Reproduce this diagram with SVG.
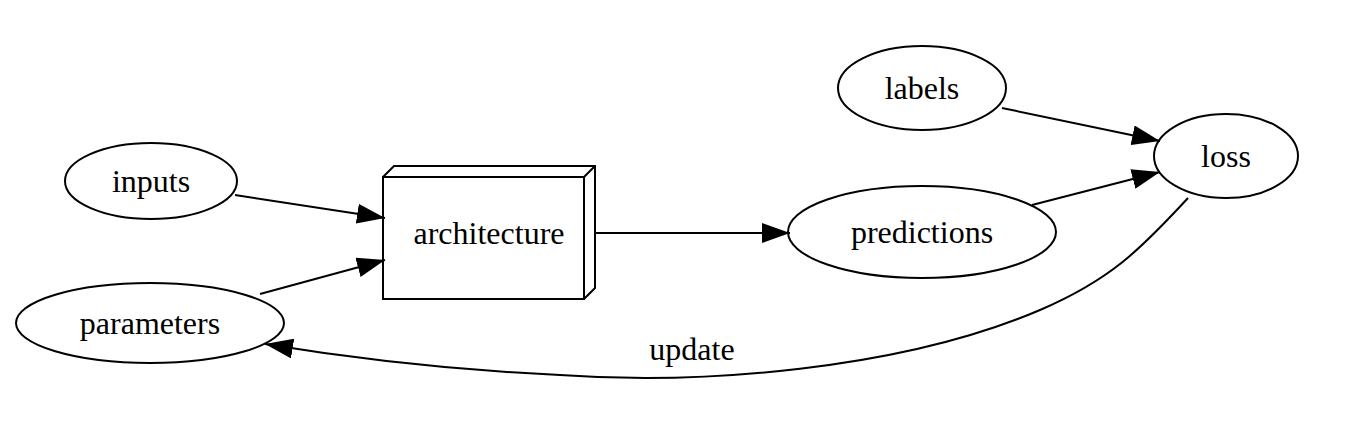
<svg xmlns="http://www.w3.org/2000/svg" width="1362" height="424" viewBox="0 0 1362 424">
<defs>
<style>
.n{fill:none;stroke:#000;stroke-width:2}
.e{fill:none;stroke:#000;stroke-width:2}
text{font-family:"Liberation Serif",serif;font-size:32px;text-anchor:middle;fill:#000}
</style>
<marker id="a" viewBox="0 0 28 20" refX="28" refY="10" markerWidth="28" markerHeight="20" markerUnits="userSpaceOnUse" orient="auto"><path d="M0,0L28,10L0,20z" fill="#000"/></marker>
</defs>
<rect width="1362" height="424" fill="#fff"/>
<g id="inputs"><ellipse class="n" cx="151" cy="181" rx="86" ry="38"/><text x="151" y="192">inputs</text></g>
<g id="parameters"><ellipse class="n" cx="150" cy="323" rx="134" ry="40"/><text x="150" y="334">parameters</text></g>
<g id="architecture"><path class="n" d="M383,177H584V299H383Z M383,177L394,166H595V288L584,299 M584,177L595,166"/><text x="489" y="244">architecture</text></g>
<g id="predictions"><ellipse class="n" cx="922" cy="232" rx="134" ry="46"/><text x="922" y="243">predictions</text></g>
<g id="labels"><ellipse class="n" cx="922" cy="88" rx="84" ry="42"/><text x="922" y="99">labels</text></g>
<g id="loss"><ellipse class="n" cx="1226" cy="156" rx="72" ry="42"/><text x="1226" y="167">loss</text></g>
<g id="edges">
<path class="e" marker-end="url(#a)" d="M235,195L385,218"/>
<path class="e" marker-end="url(#a)" d="M260,294L385,260"/>
<path class="e" marker-end="url(#a)" d="M596,233L790,233"/>
<path class="e" marker-end="url(#a)" d="M1002,108L1160,141"/>
<path class="e" marker-end="url(#a)" d="M1032,205L1160,172"/>
<path class="e" marker-end="url(#a)" d="M1188,198C1140,250 1110,280 1040,310C900,370 700,385 560,375C450,370 350,358 265,344"/>
<text x="692" y="360">update</text>
</g>
</svg>
